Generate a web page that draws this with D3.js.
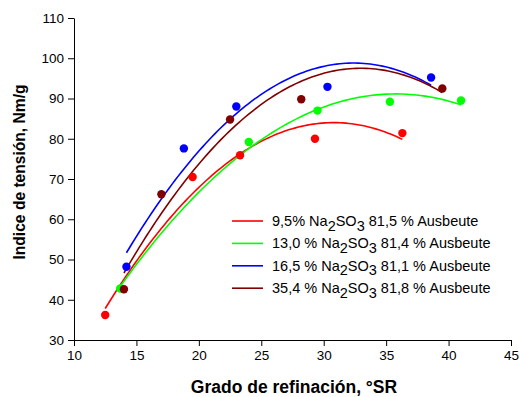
<!DOCTYPE html>
<html>
<head>
<meta charset="utf-8">
<script src="https://cdn.jsdelivr.net/npm/d3@7"></script>
<style>
  body { margin: 0; background: #fff; }
  text { font-family: Arial, "Liberation Sans", sans-serif; }
  .axis path, .axis line { stroke: #000; stroke-width: 1px; }
  .axis text { font-size: 13.5px; fill: #000; }
  .title { font-weight: bold; }
  .legend text { font-size: 14.5px; }
</style>
</head>
<body>
<div id="chart"></div>
<script>
  var width = 520, height = 397;
  var margin = {top: 18, right: 9, bottom: 57, left: 74};

  var xTicks = [10, 15, 20, 25, 30, 35, 40, 45];
  var yTicks = [30, 40, 50, 60, 70, 80, 90, 100, 110];

  var seriesNames = ["9,5%", "13,0 %", "16,5 %", "35,4 %"];
  var yields = ["81,5", "81,4", "81,1", "81,8"];
  var colors = ["#ff0000", "#00ff00", "#0000ff", "#800000"];

  // Grado de refinacion (SR) / Indice de tension (Nm/g)
  var redX = [12.5, 19.5, 23.3, 29.3, 36.3];
  var redY = [36.2, 70.5, 75.9, 80.0, 81.4];
  var greenX = [13.7, 24.0, 29.5, 35.3, 41.0];
  var greenY = [42.8, 79.2, 87.0, 89.2, 89.5];
  var blueX = [14.2, 18.8, 23.0, 30.3, 38.6];
  var blueY = [48.2, 77.6, 88.0, 92.9, 95.2];
  var darkX = [14.0, 17.0, 22.5, 28.2, 39.5];
  var darkY = [42.6, 66.2, 84.8, 89.8, 92.5];

  var allX = [redX, greenX, blueX, darkX];
  var allY = [redY, greenY, blueY, darkY];

  var svg = d3.select("#chart").append("svg")
    .attr("width", width)
    .attr("height", height);

  var x = d3.scaleLinear().domain([10, 45]).range([margin.left, width - margin.right]);
  var y = d3.scaleLinear().domain([30, 110]).range([height - margin.bottom, margin.top]);

  // quadratic least squares fit
  function quadFit(xs, ys) {
    var n = xs.length, s = [0, 0, 0, 0, 0], t = [0, 0, 0];
    for (var i = 0; i < n; i++) {
      var p = 1;
      for (var k = 0; k < 5; k++) { s[k] += p; if (k < 3) t[k] += p * ys[i]; p *= xs[i]; }
    }
    var m = [[s[0], s[1], s[2], t[0]], [s[1], s[2], s[3], t[1]], [s[2], s[3], s[4], t[2]]];
    for (var c = 0; c < 3; c++) {
      for (var r = c + 1; r < 3; r++) {
        var f = m[r][c] / m[c][c];
        for (var j = c; j < 4; j++) m[r][j] -= f * m[c][j];
      }
    }
    var b = [0, 0, 0];
    for (var r2 = 2; r2 >= 0; r2--) {
      var v = m[r2][3];
      for (var j2 = r2 + 1; j2 < 3; j2++) v -= m[r2][j2] * b[j2];
      b[r2] = v / m[r2][r2];
    }
    return function(xv) { return b[0] + b[1] * xv + b[2] * xv * xv; };
  }

  var line = d3.line().x(function(d) { return x(d[0]); }).y(function(d) { return y(d[1]); });

  allX.forEach(function(xs, i) {
    var fit = quadFit(xs, allY[i]);
    var lo = d3.min(xs), hi = d3.max(xs);
    var pts = d3.range(0, 101).map(function(k) {
      var xv = lo + (hi - lo) * k / 100;
      return [xv, fit(xv)];
    });
    svg.append("path")
      .datum(pts)
      .attr("fill", "none")
      .attr("stroke", colors[i])
      .attr("stroke-width", 1.6)
      .attr("d", line);
  });

  allX.forEach(function(xs, i) {
    svg.append("g").selectAll("circle")
      .data(xs)
      .enter().append("circle")
      .attr("cx", function(d) { return x(d); })
      .attr("cy", function(d, j) { return y(allY[i][j]); })
      .attr("r", 4.2)
      .attr("fill", colors[i]);
  });

  svg.append("g")
    .attr("class", "axis")
    .attr("transform", "translate(0," + (height - margin.bottom) + ")")
    .call(d3.axisBottom(x).tickValues(xTicks).tickSize(6).tickPadding(4).tickSizeOuter(0))
    .select(".domain").attr("d", "M" + margin.left + ",0.5H" + (width - margin.right));

  svg.append("g")
    .attr("class", "axis")
    .attr("transform", "translate(" + margin.left + ",0)")
    .call(d3.axisLeft(y).tickValues(yTicks).tickSize(6).tickPadding(4).tickSizeOuter(0));

  svg.append("text")
    .attr("class", "title")
    .attr("x", 294)
    .attr("y", 393)
    .attr("text-anchor", "middle")
    .style("font-size", "17.5px")
    .text("Grado de refinación, °SR");

  svg.append("text")
    .attr("class", "title")
    .attr("transform", "translate(25,172) rotate(-90)")
    .attr("text-anchor", "middle")
    .style("font-size", "15.6px")
    .text("Indice de tensión, Nm/g");

  var legend = svg.append("g").attr("class", "legend");
  seriesNames.forEach(function(name, i) {
    var ly = 221 + i * 22.4;
    legend.append("line")
      .attr("x1", 232).attr("x2", 263)
      .attr("y1", ly).attr("y2", ly)
      .attr("stroke", colors[i]).attr("stroke-width", 1.6);
    var t = legend.append("text").attr("x", 272).attr("y", ly + 5);
    t.append("tspan").text(name + " Na");
    t.append("tspan").attr("dy", 4.5).text("2");
    t.append("tspan").attr("dy", -4.5).text("SO");
    t.append("tspan").attr("dy", 4.5).text("3");
    t.append("tspan").attr("dy", -4.5).text(" " + yields[i] + " % Ausbeute");
  });
</script>
</body>
</html>
